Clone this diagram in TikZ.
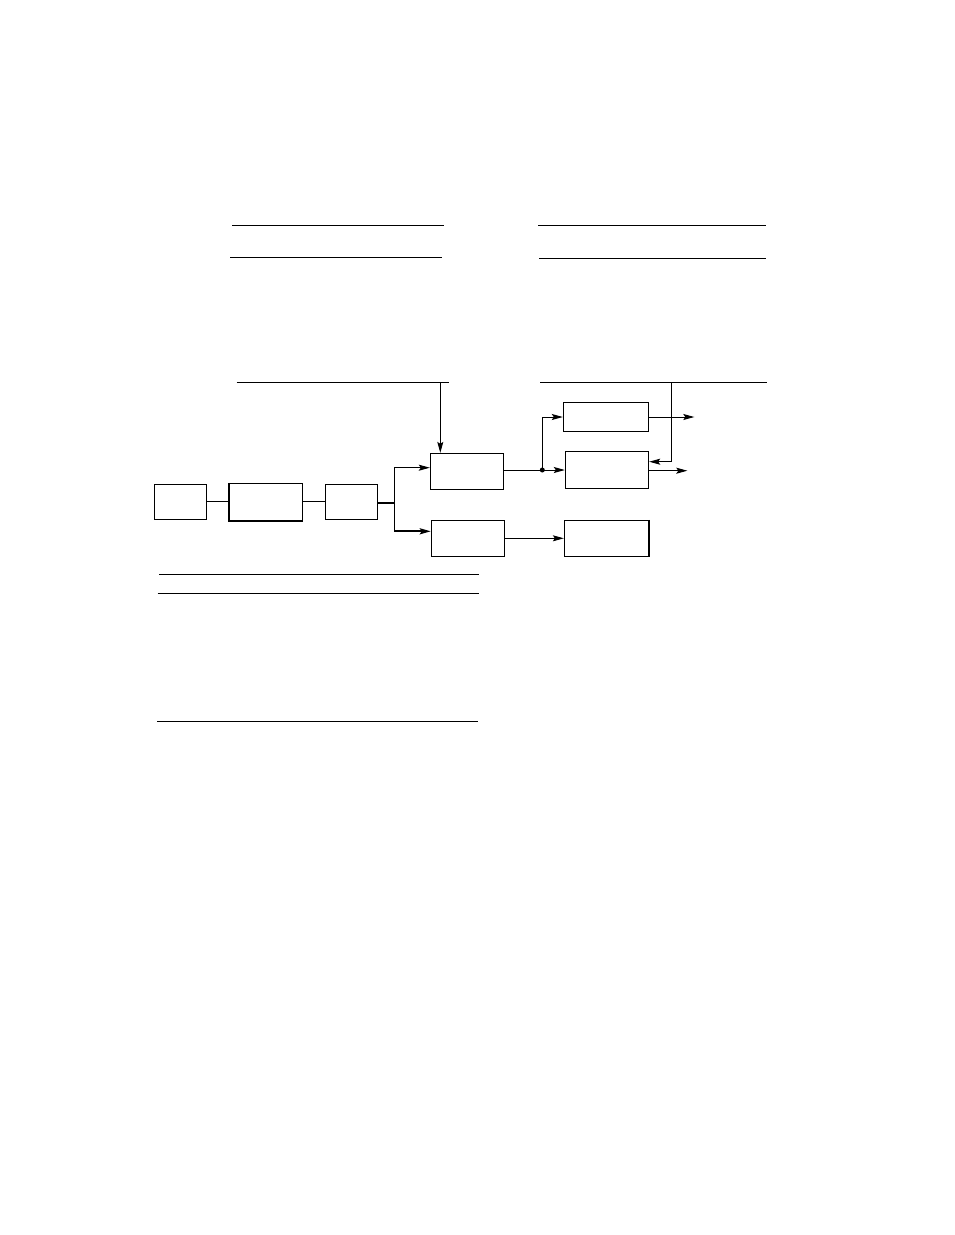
\documentclass[tikz,border=0pt]{standalone}
\usetikzlibrary{arrows.meta,calc}
\begin{document}
\begin{tikzpicture}[x=1pt,y=-1pt,
  box/.style={draw,line width=1pt,inner sep=0pt,rectangle},
  wire/.style={line width=1pt},
  thickwire/.style={line width=2pt},
  arr/.style={-{Stealth[length=11pt,width=6pt,inset=2pt]}},
  rule/.style={line width=1.1pt}
]
\useasboundingbox (0,0) rectangle (954,1235);
\fill[white] (0,0) rectangle (954,1235);

% horizontal rules
\draw[rule] (232,225.3) -- (444,225.3);
\draw[rule] (230,257.3) -- (441.7,257.3);
\draw[rule] (538,225.3) -- (765.7,225.3);
\draw[rule] (539,258.3) -- (765.7,258.3);
\draw[rule] (159,574.3) -- (478.7,574.3);
\draw[rule] (157.7,593.3) -- (478.7,593.3);
\draw[rule] (157,721.3) -- (477.7,721.3);

% boxes
\node[box,minimum width=52pt,minimum height=35pt] (A) at (180.3,501.8) {};
\node[box,minimum width=72.6pt,minimum height=37pt] (B) at (266,501.8) {};
\node[box,minimum width=52pt,minimum height=35pt] (C) at (351.3,501.8) {};
\node[box,minimum width=73pt,minimum height=35.7pt] (D) at (466.8,471.2) {};
\node[box,minimum width=73pt,minimum height=35.7pt] (E) at (467.8,538.2) {};
\node[box,minimum width=85pt,minimum height=29pt] (F) at (605.8,416.8) {};
\node[box,minimum width=83.4pt,minimum height=37.3pt] (G) at (607,469.7) {};
\node[box,minimum width=83.7pt,minimum height=35.7pt] (H) at (606.2,538.2) {};

% thicker edges
\draw[line width=2pt] (B.north west) -- (B.south west) -- (B.south east);
\draw[line width=2pt] (H.north east) -- (H.south east);

% top feed lines
\coordinate (t1) at (440.3,382.3);
\draw[rule] (236.7,382.3) -- (448.7,382.3);
\draw[wire,arr] (t1) -- (t1 |- D.north);
\coordinate (t2) at (671.3,382.3);
\draw[rule] (540,382.3) -- (766.7,382.3);
\coordinate (t3) at (671.3,461.7);
\draw[wire,arr] (t2) -- (t3) -- (t3 -| G.east);

% chain
\draw[wire] (A.east) -- (A.east -| B.west);
\draw[wire] (B.east) -- (B.east -| C.west);
\coordinate (j) at (394.3,503);
\draw[thickwire] (C.east |- j) -- (j);
\coordinate (ju) at (394.3,467.7);
\coordinate (jd) at (394.3,531.3);
\draw[wire] (ju) -- (jd);
\draw[wire,arr] (ju) -- (ju -| D.west);
\draw[thickwire,arr] (jd) -- (jd -| E.west);

% D to G and F
\coordinate (dot) at (542.3,470);
\draw[wire] (D.east |- dot) -- (dot);
\fill (dot) circle (2.5pt);
\draw[wire,arr] (dot) -- (dot -| G.west);
\coordinate (fu) at (542.3,417);
\draw[wire,arr] (dot) -- (fu) -- (fu -| F.west);

% outputs
\coordinate (fo) at (694.3,417);
\draw[wire,arr] (F.east |- fo) -- (fo);
\coordinate (go) at (687.3,470.7);
\draw[wire,arr] (G.east |- go) -- (go);

% E to H
\coordinate (eh) at (504.3,538.3);
\draw[wire,arr] (E.east |- eh) -- (eh -| H.west);
\end{tikzpicture}
\end{document}
